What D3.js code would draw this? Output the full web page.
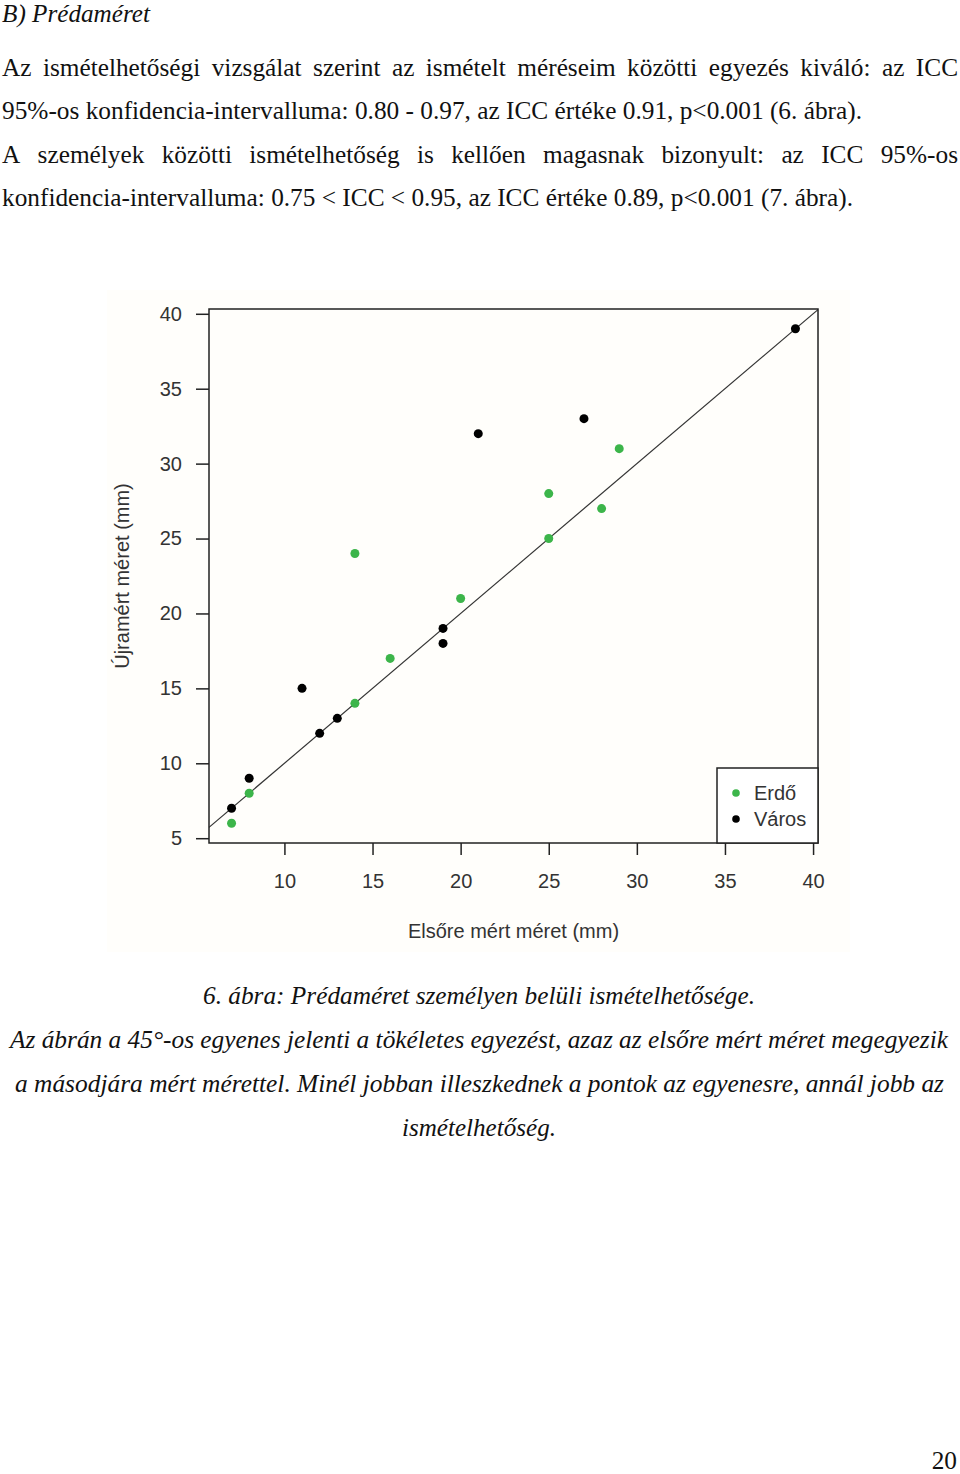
<!DOCTYPE html>
<html>
<head>
<meta charset="utf-8">
<script src="https://cdn.jsdelivr.net/npm/d3@7"></script>
<style>
  body { margin: 0; background: #fff; }
  svg { display: block; }
</style>
</head>
<body>
<svg id="page"></svg>
<script>
// --- data ---
const erdoX  = [7, 8, 14, 16, 20, 14, 25, 25, 28, 29];
const erdoY  = [6, 8, 14, 17, 21, 24, 28, 25, 27, 31];
const varosX = [7, 8, 11, 12, 13, 19, 19, 21, 27, 39];
const varosY = [7, 9, 15, 12, 13, 19, 18, 32, 33, 39];
const xTicks = [10, 15, 20, 25, 30, 35, 40];
const yTicks = [5, 10, 15, 20, 25, 30, 35, 40];
const seriesNames = ['Erdő', 'Város'];
const seriesColors = ['#3cb54a', '#000000'];

// --- page text ---
const heading = 'B) Prédaméret';
const bodyLines = [
    { t: 'Az ismételhetőségi vizsgálat szerint az ismételt méréseim közötti egyezés kiváló: az ICC', y: 76, x1: 958, just: true },
    { t: '95%-os konfidencia-intervalluma: 0.80 - 0.97, az ICC értéke 0.91, p<0.001 (6. ábra).', y: 119, x1: 862, just: false },
    { t: 'A személyek közötti ismételhetőség is kellően magasnak bizonyult: az ICC 95%-os', y: 163, x1: 958, just: true },
    { t: 'konfidencia-intervalluma: 0.75 < ICC < 0.95, az ICC értéke 0.89, p<0.001 (7. ábra).', y: 206, x1: 853, just: false }
];
const captionLines = [
    { t: '6. ábra: Prédaméret személyen belüli ismételhetősége.', y: 1004, x0: 203, x1: 755 },
    { t: 'Az ábrán a 45°-os egyenes jelenti a tökéletes egyezést, azaz az elsőre mért méret megegyezik', y: 1048, x0: 10, x1: 948 },
    { t: 'a másodjára mért mérettel. Minél jobban illeszkednek a pontok az egyenesre, annál jobb az', y: 1092, x0: 15, x1: 944 },
    { t: 'ismételhetőség.', y: 1136, x0: 402, x1: 556 }
];

const width = 960, height = 1474;
const serif = "'Liberation Serif', 'Times New Roman', serif";
const sans = "'Liberation Sans', Arial, sans-serif";

const svg = d3.select('#page')
    .attr('width', width)
    .attr('height', height);

svg.append('rect')
    .attr('width', width)
    .attr('height', height)
    .attr('fill', '#fff');

// font size that makes txt exactly w pixels wide
function sizeFor(txt, w, italic) {
    const t = svg.append('text')
        .style('font-family', serif)
        .style('font-size', '100px')
        .style('font-style', italic ? 'italic' : 'normal')
        .text(txt);
    const n = t.node().getComputedTextLength();
    t.remove();
    return 100 * w / n;
}
const bodySize = sizeFor(bodyLines[1].t, bodyLines[1].x1 - 2, false);
const capSize = sizeFor(captionLines[1].t, captionLines[1].x1 - captionLines[1].x0, true);

// fixed-width line of text
function fitLine(txt, x0, x1, y, size, italic) {
    svg.append('text')
        .attr('x', x0)
        .attr('y', y)
        .attr('textLength', x1 - x0)
        .attr('lengthAdjust', 'spacingAndGlyphs')
        .style('font-family', serif)
        .style('font-size', size + 'px')
        .style('font-style', italic ? 'italic' : 'normal')
        .attr('fill', '#111')
        .text(txt);
}

// justified line: words spread over x0..x1
function justifyLine(txt, x0, x1, y, size) {
    const words = txt.split(' ');
    const t = svg.append('text')
        .attr('y', y)
        .style('font-family', serif)
        .style('font-size', size + 'px')
        .attr('fill', '#111');
    const spans = t.selectAll('tspan')
        .data(words)
        .enter()
        .append('tspan')
            .text(d => d);
    const widths = spans.nodes().map(n => n.getComputedTextLength());
    const gap = (x1 - x0 - d3.sum(widths)) / (words.length - 1);
    let cx = x0;
    spans.attr('x', (d, i) => {
        const px = cx;
        cx += widths[i] + gap;
        return px;
    });
}

fitLine(heading, 2, 150, 22, bodySize, true);
bodyLines.forEach(l => {
    if (l.just) justifyLine(l.t, 2, l.x1, l.y, bodySize);
    else fitLine(l.t, 2, l.x1, l.y, bodySize, false);
});
captionLines.forEach(l => fitLine(l.t, l.x0, l.x1, l.y, capSize, true));

svg.append('text')
    .attr('x', 957)
    .attr('y', 1469)
    .attr('text-anchor', 'end')
    .style('font-family', serif)
    .style('font-size', bodySize + 'px')
    .attr('fill', '#111')
    .text('20');

// --- chart ---
const box = { left: 209, right: 818, top: 309, bottom: 843 };

// faint scanned-figure background
svg.append('rect')
    .attr('x', 107).attr('y', 290)
    .attr('width', 743).attr('height', 662)
    .attr('fill', '#fffefb');

// R style 4% padding on the data range
function padded(vals) {
    const e = d3.extent(vals);
    const p = (e[1] - e[0]) * 0.04;
    return [e[0] - p, e[1] + p];
}
const x = d3.scaleLinear()
    .domain(padded(erdoX.concat(varosX)))
    .range([box.left, box.right]);
const y = d3.scaleLinear()
    .domain(padded(erdoY.concat(varosY)))
    .range([box.bottom, box.top]);

const axisColor = '#222';

const gx = svg.append('g')
    .attr('transform', `translate(0,${box.bottom})`)
    .call(d3.axisBottom(x).tickValues(xTicks).tickSize(12).tickPadding(19));
const gy = svg.append('g')
    .attr('transform', `translate(${box.left},0)`)
    .call(d3.axisLeft(y).tickValues(yTicks).tickSize(13).tickPadding(14));

[gx, gy].forEach(g => {
    g.select('.domain').remove();
    g.selectAll('line').attr('stroke', axisColor).attr('stroke-width', 1.5);
    g.selectAll('text')
        .attr('fill', '#333')
        .style('font-family', sans)
        .style('font-size', '20px');
});

// 45 degree line over the whole plot region
const d0 = Math.max(x.domain()[0], y.domain()[0]);
const d1 = Math.min(x.domain()[1], y.domain()[1]);
svg.append('line')
    .attr('x1', x(d0)).attr('y1', y(d0))
    .attr('x2', x(d1)).attr('y2', y(d1))
    .attr('stroke', '#333')
    .attr('stroke-width', 1.2);

// points
const series = [
    { xs: erdoX, ys: erdoY, color: seriesColors[0] },
    { xs: varosX, ys: varosY, color: seriesColors[1] }
];
series.forEach(s => {
    svg.append('g')
        .selectAll('circle')
        .data(s.xs.map((v, i) => [v, s.ys[i]]))
        .enter()
        .append('circle')
            .attr('cx', d => x(d[0]))
            .attr('cy', d => y(d[1]))
            .attr('r', 4.5)
            .attr('fill', s.color);
});

// plot frame
svg.append('rect')
    .attr('x', box.left).attr('y', box.top)
    .attr('width', box.right - box.left)
    .attr('height', box.bottom - box.top)
    .attr('fill', 'none')
    .attr('stroke', axisColor)
    .attr('stroke-width', 1.5);

// legend (bottom right)
const leg = svg.append('g');
leg.append('rect')
    .attr('x', 717).attr('y', 768)
    .attr('width', box.right - 717)
    .attr('height', box.bottom - 768)
    .attr('fill', '#fff')
    .attr('stroke', axisColor)
    .attr('stroke-width', 1.5);
const items = leg.selectAll('g.item')
    .data(seriesNames)
    .enter()
    .append('g')
        .attr('class', 'item')
        .attr('transform', (d, i) => `translate(736,${793 + i * 26})`);
items.append('circle')
    .attr('r', 3.8)
    .attr('fill', (d, i) => seriesColors[i]);
items.append('text')
    .attr('x', 18)
    .attr('dy', '0.36em')
    .attr('fill', '#333')
    .style('font-family', sans)
    .style('font-size', '20px')
    .text(d => d);

// axis titles
svg.append('text')
    .attr('x', (box.left + box.right) / 2)
    .attr('y', 938)
    .attr('text-anchor', 'middle')
    .attr('fill', '#333')
    .style('font-family', sans)
    .style('font-size', '20px')
    .text('Elsőre mért méret (mm)');

svg.append('text')
    .attr('transform', `translate(129,${(box.top + box.bottom) / 2}) rotate(-90)`)
    .attr('text-anchor', 'middle')
    .attr('fill', '#333')
    .style('font-family', sans)
    .style('font-size', '20px')
    .text('Újramért méret (mm)');
</script>
</body>
</html>
